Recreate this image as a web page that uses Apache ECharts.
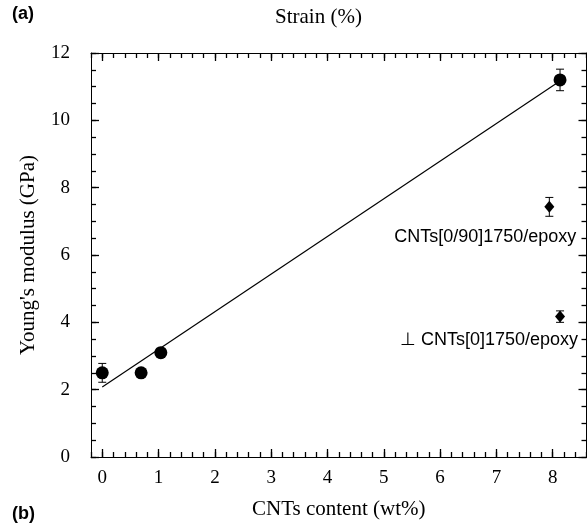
<!DOCTYPE html>
<html>
<head>
<meta charset="utf-8">
<script src="https://cdn.jsdelivr.net/npm/echarts@6/dist/echarts.min.js"></script>
<style>
  html, body { margin: 0; padding: 0; background: #fff; }
  #main { width: 587px; height: 529px; }
</style>
</head>
<body>
<div id="main"></div>
<script>
var dom = document.getElementById('main');
var myChart = echarts.init(dom);

// data
var circleContent = [0, 0.69, 1.04, 8.13];
var circleModulus = [2.5, 2.5, 3.1, 11.2];
var circleError = [0.28, 0, 0, 0.32];

var diamondContent = [7.94, 8.13];
var diamondModulus = [7.43, 4.17];
var diamondError = [0.28, 0.17];
var diamondNames = ['CNTs[0/90]1750/epoxy', '\u22a5 CNTs[0]1750/epoxy'];

var fitContent = [0, 8.07];
var fitModulus = [2.08, 11.1];

var xMajorTicks = [0, 1, 2, 3, 4, 5, 6, 7, 8];

var serif = 'Liberation Serif';
var sans = 'Liberation Sans';

var circles = circleContent.map(function (x, i) { return [x, circleModulus[i]]; });
var diamonds = diamondContent.map(function (x, i) { return [x, diamondModulus[i]]; });
var errors = [];
circleContent.forEach(function (x, i) {
  if (circleError[i] > 0) errors.push([x, circleModulus[i] - circleError[i], circleModulus[i] + circleError[i]]);
});
diamondContent.forEach(function (x, i) {
  errors.push([x, diamondModulus[i] - diamondError[i], diamondModulus[i] + diamondError[i]]);
});
var fitLine = fitContent.map(function (x, i) { return [x, fitModulus[i]]; });

// two grids on the same rect: one for major ticks, one for minor ticks
var gridRect = { left: 91, top: 53, width: 495.5, height: 404 };
var tickStyle = { color: '#000', width: 1.3 };

function majorX(pos, withLabel) {
  return {
    type: 'value', gridIndex: 0, position: pos,
    min: -0.2, max: 8.6,
    name: withLabel ? 'CNTs content (wt%)' : null,
    nameLocation: 'middle', nameGap: 42,
    nameTextStyle: { fontFamily: serif, fontSize: 21, color: '#000' },
    axisLine: { show: true, onZero: false, lineStyle: { color: '#000', width: 1 } },
    axisTick: { show: true, inside: true, length: 8, customValues: xMajorTicks, lineStyle: tickStyle },
    axisLabel: { show: withLabel, customValues: xMajorTicks, margin: 12,
      fontFamily: serif, fontSize: 19, color: '#000' },
    splitLine: { show: false }
  };
}
function minorX(pos) {
  return {
    type: 'value', gridIndex: 1, position: pos,
    min: -0.2, max: 8.6, interval: 0.2,
    axisLine: { show: false, onZero: false },
    axisTick: { show: true, inside: true, length: 5, lineStyle: tickStyle },
    axisLabel: { show: false },
    splitLine: { show: false }
  };
}
function majorY(pos, withLabel) {
  return {
    type: 'value', gridIndex: 0, position: pos,
    min: 0, max: 12, interval: 2,
    name: withLabel ? "Young's modulus (GPa)" : null,
    nameLocation: 'middle', nameGap: 52, nameRotate: 90,
    nameTextStyle: { fontFamily: serif, fontSize: 21, color: '#000' },
    axisLine: { show: true, onZero: false, lineStyle: { color: '#000', width: 1 } },
    axisTick: { show: true, inside: true, length: 8, lineStyle: tickStyle },
    axisLabel: { show: withLabel, margin: 21, fontFamily: serif, fontSize: 19, color: '#000' },
    splitLine: { show: false }
  };
}
function minorY(pos) {
  return {
    type: 'value', gridIndex: 1, position: pos,
    min: 0, max: 12, interval: 0.5,
    axisLine: { show: false, onZero: false },
    axisTick: { show: true, inside: true, length: 5, lineStyle: tickStyle },
    axisLabel: { show: false },
    splitLine: { show: false }
  };
}

var option = {
  animation: false,
  grid: [
    Object.assign({}, gridRect),
    Object.assign({}, gridRect)
  ],
  xAxis: [majorX('bottom', true), majorX('top', false), minorX('bottom'), minorX('top')],
  yAxis: [majorY('left', true), majorY('right', false), minorY('left'), minorY('right')],
  graphic: [
    { type: 'text', left: 12, top: 5, style: { text: '(a)', font: 'bold 18px ' + sans, fill: '#000' } },
    { type: 'text', left: 12, top: 505, style: { text: '(b)', font: 'bold 18px ' + sans, fill: '#000' } },
    { type: 'text', left: 275, top: 7, style: { text: 'Strain (%)', font: '21px ' + serif, fill: '#000' } }
  ],
  series: [
    {
      type: 'line', xAxisIndex: 0, yAxisIndex: 0,
      data: fitLine, showSymbol: false, symbol: 'none',
      lineStyle: { color: '#000', width: 1.2 }, z: 2
    },
    {
      type: 'custom', xAxisIndex: 0, yAxisIndex: 0,
      data: errors, z: 3,
      renderItem: function (params, api) {
        var lo = api.coord([api.value(0), api.value(1)]);
        var hi = api.coord([api.value(0), api.value(2)]);
        var w = 4;
        var st = { stroke: '#000', lineWidth: 1 };
        return {
          type: 'group',
          children: [
            { type: 'line', shape: { x1: lo[0], y1: lo[1], x2: hi[0], y2: hi[1] }, style: st },
            { type: 'line', shape: { x1: lo[0] - w, y1: lo[1], x2: lo[0] + w, y2: lo[1] }, style: st },
            { type: 'line', shape: { x1: hi[0] - w, y1: hi[1], x2: hi[0] + w, y2: hi[1] }, style: st }
          ]
        };
      }
    },
    {
      type: 'scatter', xAxisIndex: 0, yAxisIndex: 0,
      data: circles, symbol: 'circle', symbolSize: 13,
      itemStyle: { color: '#000', opacity: 1 }, z: 4
    },
    {
      type: 'scatter', xAxisIndex: 0, yAxisIndex: 0,
      symbol: 'diamond', symbolSize: [10, 12],
      itemStyle: { color: '#000', opacity: 1 }, z: 4,
      data: [
        { value: diamonds[0], label: { show: true, formatter: diamondNames[0], position: [32, 36] } },
        { value: diamonds[1], label: { show: true, formatter: diamondNames[1], position: [23, 29] } }
      ],
      label: { align: 'right', verticalAlign: 'middle', fontFamily: sans, fontSize: 18, color: '#000' }
    }
  ]
};

myChart.setOption(option);
</script>
</body>
</html>
